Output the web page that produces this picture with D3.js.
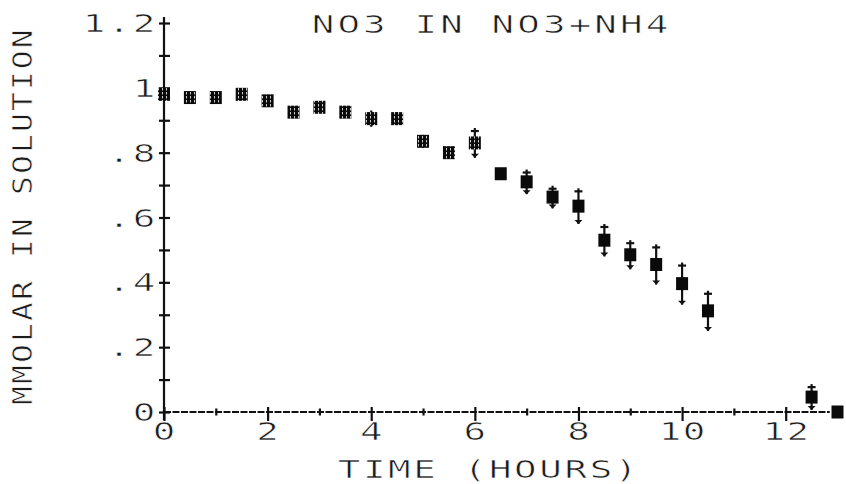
<!DOCTYPE html>
<html>
<head>
<meta charset="utf-8">
<script src="https://cdn.jsdelivr.net/npm/d3@7"></script>
<style>
  html, body { margin: 0; padding: 0; background: #fff; }
  svg { display: block; }
  text { font-family: "DejaVu Sans Mono", "Liberation Mono", monospace; fill: #1c1c1c; stroke: #fff; stroke-width: 0.6px; paint-order: normal; }
</style>
</head>
<body>
<svg id="chart" width="846" height="484"></svg>
<script>
// ---- data ----
const times  = [0, 0.5, 1, 1.5, 2, 2.5, 3, 3.5, 4, 4.5, 5, 5.5, 6, 6.5, 7, 7.5, 8, 8.5, 9, 9.5, 10, 10.5, 12.5, 13];
const no3    = [0.98, 0.97, 0.97, 0.98, 0.96, 0.925, 0.94, 0.925, 0.905, 0.905, 0.835, 0.80, 0.83, 0.735, 0.71, 0.663, 0.635, 0.53, 0.485, 0.455, 0.396, 0.312, 0.046, 0.0];
const no3Err = [0.01, 0.01, 0.01, 0.01, 0.015, 0.01, 0.01, 0.01, 0.025, 0.02, 0.02, 0.015, 0.046, 0.015, 0.038, 0.035, 0.055, 0.05, 0.045, 0.062, 0.065, 0.062, 0.04, 0.0];

const xTickValues = [0, 2, 4, 6, 8, 10, 12];
const xTickLabels = ["0", "2", "4", "6", "8", "10", "12"];
const xMinorValues = [1, 3, 5, 7, 9, 11];
const yTickValues = [0, 0.2, 0.4, 0.6, 0.8, 1.0, 1.2];
const yTickLabels = ["0", ".2", ".4", ".6", ".8", "1", "1.2"];
const yMinorValues = [0.1, 0.3, 0.5, 0.7, 0.9, 1.1];

const titleText = "NO3 IN NO3+NH4";
const xTitle = "TIME (HOURS)";
const yTitle = "MMOLAR IN SOLUTION";

// ---- layout ----
const svg = d3.select("#chart");
const x = d3.scaleLinear().domain([0, 13]).range([164, 837.5]);
const y = d3.scaleLinear().domain([0, 1.2]).range([412, 23]);
const ink = "#111";

const FS = 25, SX = 1.5;
function monoText(g, str, cx0, baseline, pitch, opt = {}) {
  const fs = opt.fs || FS, sx = opt.sx || SX, adv = 0.602 * fs;
  const ls = pitch / sx - adv;
  const startX = cx0 - adv * sx / 2;
  return g.append("text")
    .attr("transform", `translate(${startX},${baseline}) scale(${sx},1)`)
    .style("font-size", fs + "px")
    .style("letter-spacing", ls + "px")
    .text(str);
}

const defs = svg.append("defs");
const pat = defs.append("pattern").attr("id", "hatch").attr("patternUnits", "userSpaceOnUse")
  .attr("width", 4).attr("height", 4);
pat.append("rect").attr("width", 4).attr("height", 4).attr("fill", "#0a0a0a");
pat.append("rect").attr("x", 2).attr("y", 0).attr("width", 0.8).attr("height", 2.4).attr("fill", "#fff");

// ---- y axis ----
const yAxisG = svg.append("g").attr("transform", `translate(${x(0)},0)`)
  .call(d3.axisLeft(y).tickValues(yTickValues.concat(yMinorValues)).tickFormat("").tickSize(0));
yAxisG.select(".domain").remove();
yAxisG.append("line").attr("x1", 0).attr("x2", 0).attr("y1", 420).attr("y2", 17)
  .attr("stroke", ink).attr("stroke-width", 2.2);
yAxisG.selectAll(".tick").append("line").attr("x1", -5).attr("x2", 6).attr("y1", 0).attr("y2", 0)
  .attr("stroke", ink).attr("stroke-width", 2.2);

const yLab = svg.append("g");
yTickValues.forEach((v, i) => {
  const s = yTickLabels[i];
  const pitch = 25;
  const lastCenter = 144;
  monoText(yLab, s, lastCenter - (s.length - 1) * pitch, y(v) + 9, pitch);
});

// ---- x axis ----
const xAxisG = svg.append("g").attr("transform", `translate(0,${y(0)})`)
  .call(d3.axisBottom(x).tickValues(xTickValues.concat(xMinorValues)).tickFormat("").tickSize(0));
xAxisG.select(".domain").remove();
xAxisG.append("line").attr("x1", x(0)).attr("x2", x(12.85)).attr("y1", 0).attr("y2", 0)
  .attr("stroke", ink).attr("stroke-width", 2).attr("stroke-dasharray", "7,1.5");
xAxisG.selectAll(".tick").each(function(d) {
  const major = xTickValues.includes(d);
  d3.select(this).append("line").attr("x1", 0).attr("x2", 0)
    .attr("y1", major ? -5 : -3.5).attr("y2", major ? 9 : 3.5)
    .attr("stroke", ink).attr("stroke-width", 2.2);
});

const xLab = svg.append("g");
xTickValues.forEach((v, i) => {
  const s = xTickLabels[i];
  const pitch = 24;
  monoText(xLab, s, x(v) - (s.length - 1) * pitch / 2, 440, pitch);
});

// ---- titles ----
monoText(svg, titleText, 323, 33, 25.7);
monoText(svg, xTitle, 349, 478, 25.2);
const yt = svg.append("g").attr("transform", "translate(32,405) rotate(-90)");
(function() {
  const fs = 26, sx = 1.2, adv = 0.602 * fs, pitch = 21;
  yt.append("text")
    .attr("transform", `scale(${sx},1)`)
    .style("font-size", fs + "px")
    .style("letter-spacing", (pitch / sx - adv) + "px")
    .text(yTitle);
})();

// ---- data marks ----
const data = times.map((t, i) => ({ t, v: no3[i], e: no3Err[i] }));
const pts = svg.append("g");
const eb = pts.selectAll("g.eb").data(data.filter(d => d.e > 0)).join("g").attr("class", "eb");
eb.append("line")
  .attr("x1", d => x(d.t)).attr("x2", d => x(d.t))
  .attr("y1", d => y(d.v + d.e)).attr("y2", d => y(d.v - d.e))
  .attr("stroke", ink).attr("stroke-width", 2.2);
eb.append("line")
  .attr("x1", d => x(d.t) - 4).attr("x2", d => x(d.t) + 4)
  .attr("y1", d => y(d.v + d.e) + 3).attr("y2", d => y(d.v + d.e) + 3)
  .attr("stroke", ink).attr("stroke-width", 2.2);
eb.append("path")
  .attr("d", d => {
    const cx = x(d.t), by = y(d.v - d.e);
    return `M${cx - 4},${by - 4} L${cx + 4},${by - 4} L${cx},${by} Z`;
  })
  .attr("fill", ink);

pts.selectAll("rect.m").data(data).join("rect").attr("class", "m")
  .attr("x", d => x(d.t) - 6).attr("y", d => y(d.v) - 6.5)
  .attr("width", 12).attr("height", 13)
  .attr("fill", d => d.t >= 6.5 ? "#0a0a0a" : "url(#hatch)");
</script>
</body>
</html>
